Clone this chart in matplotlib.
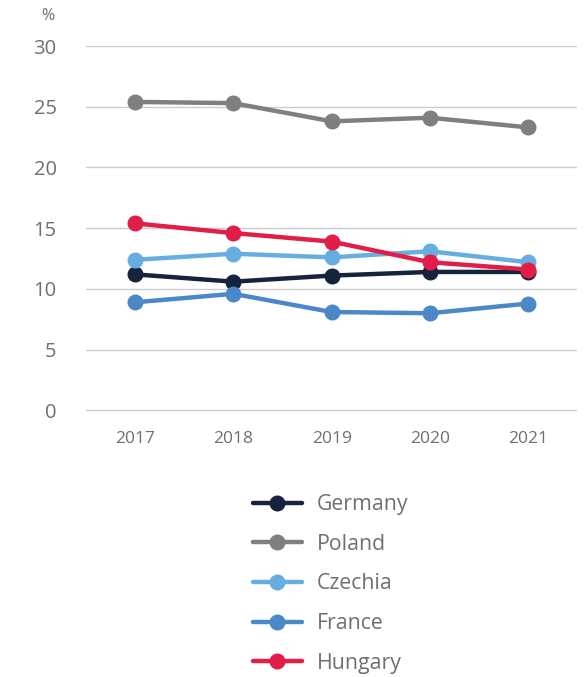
import matplotlib
matplotlib.use('Agg')

import matplotlib.pyplot as plt

years = ['2017', '2018', '2019', '2020', '2021']

germany = [11.2, 10.6, 11.1, 11.4, 11.4]
poland = [25.4, 25.3, 23.8, 24.1, 23.3]
czechia = [12.4, 12.9, 12.6, 13.1, 12.2]
france = [8.9, 9.6, 8.1, 8.0, 8.8]
hungary = [15.4, 14.6, 13.9, 12.2, 11.6]

names = ['Germany', 'Poland', 'Czechia', 'France', 'Hungary']
colors = ['#15233d', '#7f7f7f', '#67aee0', '#4a88c8', '#e21d47']
series = [germany, poland, czechia, france, hungary]

text_color = '#6f6f6f'
plt.rcParams['font.family'] = ['Open Sans', 'DejaVu Sans']

fig = plt.figure(figsize=(5.88, 6.77), dpi=100)
ax = fig.add_axes([0.146, 0.392, 0.836, 0.540])

x = list(range(len(years)))
for vals, name, col in zip(series, names, colors):
    ax.plot(x, vals, color=col, lw=3.2, marker='o', markersize=10.5,
            label=name, clip_on=False, solid_capstyle='round')

ax.set_ylim(-0.1, 30)
ax.set_xlim(-0.5, 4.5)
ax.set_yticks(range(0, 31, 5))
ax.set_xticks(x)
ax.set_xticklabels(years)
ax.grid(axis='y', color='#cccccc', lw=1)
ax.set_axisbelow(True)
for s in ax.spines.values():
    s.set_visible(False)
ax.tick_params(axis='y', length=0, pad=21, labelsize=14.5, labelcolor=text_color)
ax.tick_params(axis='x', length=0, pad=14, labelsize=12.5, labelcolor=text_color)

fig.text(48 / 588, 1 - 16 / 677, '%', ha='center', va='center',
         fontsize=11.5, color=text_color)

leg = fig.legend(loc='upper left', bbox_to_anchor=(253 / 588, 1 - 494 / 677),
                 frameon=False, fontsize=15.3, handlelength=2.3,
                 labelspacing=0.88, handletextpad=0.72, borderpad=0,
                 borderaxespad=0)
for t in leg.get_texts():
    t.set_color(text_color)

plt.savefig('out.png', dpi=100)
